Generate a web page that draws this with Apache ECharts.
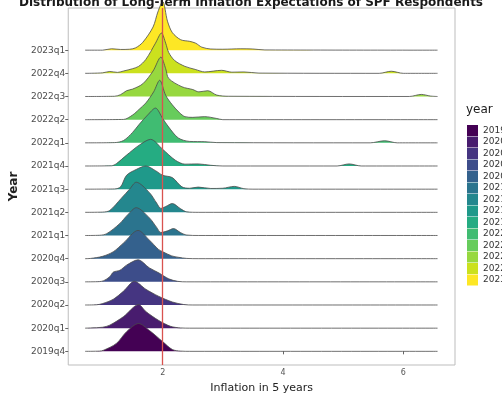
<!DOCTYPE html>
<html>
<head>
<meta charset="utf-8">
<script src="https://cdn.jsdelivr.net/npm/echarts@6/dist/echarts.min.js"></script>
<style>
  html, body { margin: 0; padding: 0; background: #fff; }
  #chart { width: 502px; height: 399px; }
</style>
</head>
<body>
<div id="chart"></div>
<script>
// quarters bottom -> top
const quarters = ['2019q4', '2020q1', '2020q2', '2020q3', '2020q4', '2021q1', '2021q2',
  '2021q3', '2021q4', '2022q1', '2022q2', '2022q3', '2022q4', '2023q1']
const xTicks = [2, 4, 6]
const target = 2

// ridge heights [inflation, density height in row units]
const d2019q4 = [[0.71, 0], [0.95, 0.01], [1.02, 0.05], [1.23, 0.34], [1.4, 0.85], [1.6, 1.2], [1.78, 0.9], [2.0, 0.42], [2.16, 0.08], [2.3, 0.01], [2.45, 0], [6.57, 0]]
const d2020q1 = [[0.71, 0], [0.8, 0.01], [1.0, 0.04], [1.12, 0.13], [1.35, 0.5], [1.6, 1.02], [1.72, 0.72], [1.93, 0.34], [2.13, 0.08], [2.3, 0.01], [2.45, 0], [6.57, 0]]
const d2020q2 = [[0.71, 0], [0.9, 0.01], [1.0, 0.06], [1.18, 0.25], [1.35, 0.6], [1.53, 1.02], [1.72, 0.68], [1.93, 0.38], [2.16, 0.13], [2.35, 0.02], [2.5, 0], [6.57, 0]]
const d2020q3 = [[0.71, 0], [0.95, 0.01], [1.02, 0.05], [1.12, 0.22], [1.18, 0.42], [1.29, 0.5], [1.4, 0.72], [1.59, 0.95], [1.78, 0.6], [1.94, 0.38], [2.1, 0.13], [2.25, 0.02], [2.4, 0], [6.57, 0]]
const d2020q4 = [[0.71, 0], [0.8, 0.01], [1.0, 0.1], [1.18, 0.3], [1.35, 0.68], [1.59, 1.22], [1.78, 0.8], [1.93, 0.4], [2.0, 0.3], [2.15, 0.12], [2.26, 0.06], [2.4, 0.01], [2.6, 0], [6.57, 0]]
const d2021q1 = [[0.71, 0], [0.95, 0.01], [1.07, 0.08], [1.28, 0.5], [1.42, 0.9], [1.56, 1.2], [1.78, 0.76], [1.9, 0.35], [1.97, 0.13], [2.08, 0.2], [2.18, 0.3], [2.3, 0.12], [2.4, 0.02], [2.6, 0], [6.57, 0]]
const d2021q2 = [[0.71, 0], [1.0, 0.01], [1.12, 0.08], [1.31, 0.6], [1.45, 1.0], [1.56, 1.3], [1.78, 0.85], [1.9, 0.4], [1.97, 0.17], [2.05, 0.25], [2.16, 0.38], [2.3, 0.15], [2.4, 0.02], [2.6, 0], [6.57, 0]]
const d2021q3 = [[0.71, 0], [1.2, 0.01], [1.3, 0.1], [1.4, 0.6], [1.56, 0.85], [1.72, 1.0], [1.88, 0.8], [2.0, 0.6], [2.16, 0.5], [2.32, 0.1], [2.45, 0.04], [2.59, 0.09], [2.8, 0.03], [3.0, 0.04], [3.19, 0.12], [3.35, 0.02], [3.5, 0], [6.57, 0]]
const d2021q4 = [[0.71, 0], [1.15, 0.01], [1.23, 0.1], [1.4, 0.47], [1.61, 0.9], [1.8, 1.15], [2.0, 0.72], [2.21, 0.25], [2.37, 0.08], [2.59, 0.09], [2.8, 0.03], [3.0, 0], [4.9, 0], [5.1, 0.09], [5.3, 0], [6.57, 0]]
const d2022q1 = [[0.71, 0], [1.2, 0.01], [1.35, 0.1], [1.5, 0.45], [1.61, 0.8], [1.75, 1.2], [1.88, 1.5], [2.0, 1.05], [2.1, 0.68], [2.26, 0.21], [2.45, 0.06], [2.7, 0.05], [2.9, 0.01], [5.45, 0], [5.69, 0.09], [5.9, 0], [6.57, 0]]
const d2022q2 = [[0.71, 0], [1.35, 0.01], [1.5, 0.2], [1.61, 0.45], [1.72, 0.72], [1.85, 1.2], [1.95, 1.7], [2.05, 1.05], [2.16, 0.64], [2.28, 0.3], [2.37, 0.13], [2.5, 0.1], [2.7, 0.13], [2.9, 0.05], [3.0, 0], [6.57, 0]]
const d2022q3 = [[0.71, 0], [1.2, 0.01], [1.3, 0.08], [1.4, 0.25], [1.5, 0.32], [1.67, 0.55], [1.84, 1.1], [1.97, 1.7], [2.05, 1.2], [2.1, 0.78], [2.32, 0.42], [2.5, 0.3], [2.6, 0.2], [2.75, 0.25], [2.9, 0.06], [3.1, 0.01], [6.1, 0], [6.3, 0.09], [6.45, 0.02], [6.57, 0]]
const d2022q4 = [[0.71, 0], [1.0, 0.02], [1.12, 0.08], [1.25, 0.04], [1.35, 0.1], [1.5, 0.2], [1.6, 0.3], [1.72, 0.6], [1.88, 1.3], [1.98, 1.74], [2.05, 1.3], [2.1, 0.9], [2.2, 0.55], [2.37, 0.3], [2.54, 0.17], [2.7, 0.06], [2.98, 0.13], [3.15, 0.05], [3.35, 0.06], [3.6, 0.01], [5.6, 0], [5.8, 0.09], [6.0, 0], [6.57, 0]]
const d2023q1 = [[0.71, 0], [1.0, 0], [1.15, 0.06], [1.3, 0.03], [1.45, 0.04], [1.55, 0.1], [1.67, 0.34], [1.84, 1.0], [1.92, 1.65], [2.0, 2.1], [2.08, 1.25], [2.16, 0.76], [2.3, 0.45], [2.45, 0.38], [2.55, 0.3], [2.65, 0.13], [2.8, 0.05], [3.0, 0.04], [3.3, 0.06], [3.5, 0.05], [3.7, 0.01], [6.57, 0]]

const densities = [d2019q4, d2020q1, d2020q2, d2020q3, d2020q4, d2021q1, d2021q2,
  d2021q3, d2021q4, d2022q1, d2022q2, d2022q3, d2022q4, d2023q1]

const palette = ['#440154', '#481C6E', '#453581', '#3D4D8A', '#34618D', '#2B748E', '#24878E',
  '#1F998A', '#25AC82', '#40BC72', '#67CC5C', '#97D83F', '#CBE11E', '#FDE725']

const font = 'DejaVu Sans'
const chart = echarts.init(document.getElementById('chart'))

// top ridge first so lower ridges are painted over it
const series = []
for (let k = quarters.length - 1; k >= 0; k--) {
  series.push({
    type: 'line',
    name: quarters[k],
    data: densities[k].map(([x, h]) => [x, k + h]),
    smooth: 0.3,
    symbol: 'none',
    clip: false,
    lineStyle: { color: '#4a4a4a', width: 0.8 },
    itemStyle: { color: palette[k] },
    areaStyle: { color: palette[k], opacity: 1, origin: k },
  })
}
series[series.length - 1].markLine = {
  silent: true,
  symbol: 'none',
  label: { show: false },
  lineStyle: { color: '#d9534f', width: 1.3, type: 'solid' },
  data: [{ xAxis: target }],
}

chart.setOption({
  animation: false,
  backgroundColor: '#fff',
  title: [
    {
      text: 'Distribution of Long-Term Inflation Expectations of SPF Respondents',
      left: 'center',
      top: -8,
      textStyle: { fontFamily: font, fontSize: 12, fontWeight: 'bold', color: '#1a1a1a' },
    },
    {
      text: 'year',
      left: 461,
      top: 99,
      textStyle: { fontFamily: font, fontSize: 12, fontWeight: 'normal', color: '#1a1a1a' },
    },
  ],
  legend: {
    orient: 'vertical',
    left: 462,
    top: 120,
    itemWidth: 11,
    itemHeight: 11,
    itemGap: 0.5,
    icon: 'rect',
    data: quarters.map((q, k) => ({ name: q, itemStyle: { color: palette[k] } })),
    formatter: name => name.slice(0, 4),
    textStyle: { fontFamily: font, fontSize: 9, color: '#333' },
  },
  grid: {
    left: 61,
    right: 47,
    top: 8,
    bottom: 27,
    show: true,
    borderColor: '#bdbdbd',
    borderWidth: 1,
  },
  xAxis: {
    type: 'value',
    min: 0.43,
    max: 6.86,
    name: 'Inflation in 5 years',
    nameLocation: 'middle',
    nameGap: 18,
    nameTextStyle: { fontFamily: font, fontSize: 11, color: '#222' },
    axisLine: { show: false },
    axisTick: { show: true, length: 3, customValues: xTicks, lineStyle: { color: '#666' } },
    axisLabel: { customValues: xTicks, fontFamily: font, fontSize: 8, color: '#555', margin: 4 },
    splitLine: { show: false },
  },
  yAxis: {
    type: 'value',
    min: -0.59,
    max: 14.82,
    name: 'Year',
    nameLocation: 'middle',
    nameRotate: 90,
    nameGap: 44,
    nameTextStyle: { fontFamily: font, fontSize: 12, fontWeight: 'bold', color: '#222' },
    axisLine: { show: false },
    axisTick: { show: true, length: 3, customValues: quarters.map((q, k) => k), lineStyle: { color: '#666' } },
    axisLabel: {
      customValues: quarters.map((q, k) => k),
      formatter: v => quarters[Math.round(v)],
      fontFamily: font,
      fontSize: 9,
      color: '#4d4d4d',
      margin: 3,
    },
    splitLine: { show: false },
  },
  series,
})
</script>
</body>
</html>
